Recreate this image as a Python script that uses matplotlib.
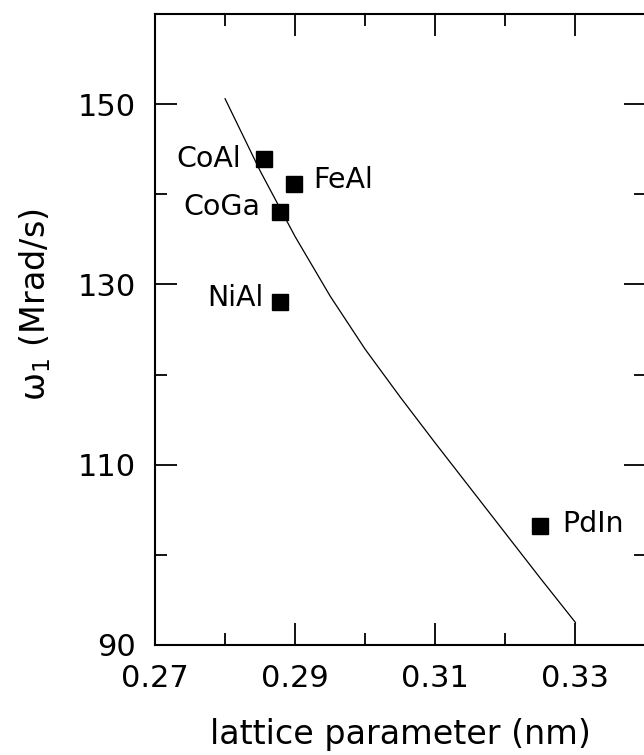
import matplotlib
matplotlib.use("Agg")
import matplotlib.pyplot as plt
from matplotlib.ticker import MultipleLocator

# measured compounds
names = ["CoAl", "FeAl", "CoGa", "NiAl", "PdIn"]
lattice = [0.2855, 0.2898, 0.2878, 0.2878, 0.3249]
omega = [143.9, 141.1, 138.0, 128.0, 103.2]

# model curve
curve_x = [0.280, 0.285, 0.290, 0.295, 0.300, 0.305, 0.310, 0.315, 0.320, 0.325, 0.330]
curve_y = [150.6, 142.6, 135.3, 128.7, 122.8, 117.5, 112.4, 107.4, 102.4, 97.4, 92.5]

# label offsets in points (dx, dy, alignment)
offsets = {"CoAl": (-16, 0, "right"), "FeAl": (14, 3.5, "left"),
           "CoGa": (-14, 4, "right"), "NiAl": (-11.5, 3, "right"),
           "PdIn": (16, 1.5, "left")}

plt.rcParams['font.family'] = ['DejaVu Sans']
fs = 22

fig = plt.figure(figsize=(6.44, 7.55), dpi=100)
W, H = 644.0, 755.0
ax = fig.add_axes([155 / W, (H - 645) / H, (645.5 - 155) / W, (645 - 14) / H])

ax.plot(curve_x, curve_y, color='black', lw=0.9)
ax.plot(lattice, omega, 's', color='black', markersize=11, linestyle='none')
for n, x, y in zip(names, lattice, omega):
    dx, dy, ha = offsets[n]
    ax.annotate(n, (x, y), xytext=(dx, dy), textcoords='offset points',
                ha=ha, va='center', fontsize=20.5)

ax.set_xlim(0.27, 0.34)
ax.set_ylim(90, 160)
ax.set_xticks([0.27, 0.29, 0.31, 0.33])
ax.set_xticklabels(["0.27", "0.29", "0.31", "0.33"])
ax.set_yticks([90, 110, 130, 150])
ax.xaxis.set_minor_locator(MultipleLocator(0.01))
ax.yaxis.set_minor_locator(MultipleLocator(10))
ax.tick_params(which='both', direction='in', top=True, right=True, width=1.3,
               labelsize=fs, pad=14)
ax.tick_params(which='major', length=16)
ax.tick_params(which='minor', length=8.5)
for s in ax.spines.values():
    s.set_linewidth(1.5)

ax.set_xlabel("lattice parameter (nm)", fontsize=24, labelpad=18)
fig.text(35 / W, (H - 305) / H, r"$\mathregular{\omega_1}$ (Mrad/s)", rotation=90,
         fontsize=24, ha='center', va='center')

fig.savefig("out.png", dpi=100)
